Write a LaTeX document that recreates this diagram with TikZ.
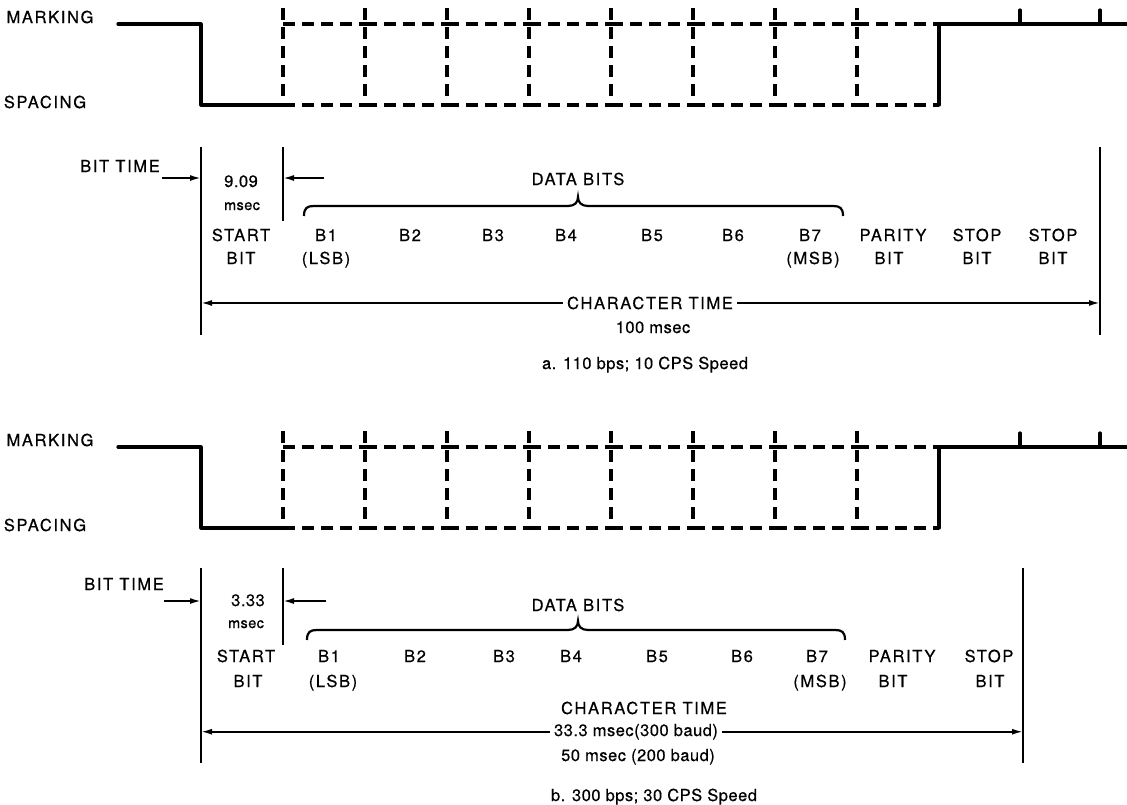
\documentclass[tikz,border=0pt]{standalone}
\usepackage{fontspec}
\setmainfont{TeX Gyre Heros}[LetterSpace=3,FakeBold=0.5]
\newfontfamily\capsfont{TeX Gyre Heros}[LetterSpace=10,FakeBold=0.5]
\usetikzlibrary{arrows.meta}

\begin{document}
\begin{tikzpicture}[x=1pt,y=-1pt,every path/.style={>={Latex[length=11pt,width=6pt]}},
	sig/.style={line width=3.2pt,line join=round,line cap=round},
	sigdash/.style={line width=3.2pt,dash pattern=on 12pt off 7pt},
	rulebar/.style={line width=2.4pt},
	dimarrow/.style={line width=1.8pt,->},
	brc/.style={line width=2.2pt},
	caplbl/.style={inner sep=0pt,anchor=base,font=\capsfont\fontsize{16.5}{20}\selectfont},
	txtlbl/.style={inner sep=0pt,anchor=base,font=\fontsize{16.5}{20}\selectfont},
	unitlbl/.style={inner sep=0pt,anchor=base,font=\fontsize{14.5}{18}\selectfont}]

	\useasboundingbox (0,0) rectangle (1127,804);

	% draw both waveforms
	\foreach \dy/\n in {0/a,423/b}
	{
		\node[caplbl] (mark-\n) at (50,23+\dy) {MARKING};
		\node[caplbl] (space-\n) at (45,108+\dy) {SPACING};
		% start bit
		\draw[sig] (118,24+\dy) -- (201,24+\dy) -- (201,105+\dy) -- (283,105+\dy);
		% data and parity bits
		\foreach \k in {0,...,7}
		{
			\draw[sigdash] (283+82*\k,8+\dy) -- (283+82*\k,105+\dy);
			\draw[sigdash] (283+82*\k,24+\dy) -- (365+82*\k,24+\dy);
			\draw[sigdash] (283+82*\k,105+\dy) -- (365+82*\k,105+\dy);
		}
		% stop bits
		\draw[sig] (939,105+\dy) -- (939,24+\dy) -- (1127,24+\dy);
		\draw[sig] (1020,10+\dy) -- (1020,24+\dy);
		\draw[sig] (1100,10+\dy) -- (1100,24+\dy);
	}

	% draw timing, 110 bps
	\coordinate (left-a) at (201,147);
	\coordinate (bit-a) at (283,147);
	\coordinate (right-a) at (1100,147);
	\draw[rulebar] (left-a) -- ++(0,188);
	\draw[rulebar] (bit-a) -- ++(0,74);
	\draw[rulebar] (right-a) -- ++(0,188);

	\node[caplbl] (bittime-a) at (120,172) {BIT TIME};
	\coordinate (btl-a) at (162,178);
	\coordinate (btr-a) at (324,178);
	\draw[dimarrow] (btl-a) -- (btl-a -| left-a);
	\draw[dimarrow] (btr-a) -- (btr-a -| bit-a);
	\node[txtlbl] (val-a) at (241,187) {9.09};
	\node[unitlbl] (unit-a) at (242,210) {msec};

	\foreach \x/\t/\nm in {241/START/start,326/B1/b1,410/B2/b2,493/B3/b3,566/B4/b4,652/B5/b5,733/B6/b6,810/B7/b7,893/PARITY/par,977/STOP/stopi,1053/STOP/stopii}
		\node[caplbl] (\nm-a) at (\x,241) {\t};
	\foreach \x/\t/\nm in {241/BIT/startbit,326/(LSB)/lsb,813/(MSB)/msb,889/BIT/parbit,977/BIT/stopibit,1053/BIT/stopiibit}
		\node[caplbl] (\nm-a) at (\x,264) {\t};

	% draw brace over data bits
	\node[caplbl] (data-a) at (578,185) {DATA BITS};
	\draw[brc] (304,216) .. controls (304,208) and (307,206) .. (314,206) -- (568,206) .. controls (575,206) and (578,202) .. (578,197) .. controls (578,202) and (581,206) .. (588,206) -- (833,206) .. controls (840,206) and (843,208) .. (843,216);

	\node[caplbl] (char-a) at (650,309) {CHARACTER TIME};
	\node[txtlbl] (charval-a) at (653,333) {100 msec};
	\draw[dimarrow,shorten <=4pt] (char-a.west) -- (char-a.west -| left-a);
	\draw[dimarrow,shorten <=4pt] (char-a.east) -- (char-a.east -| right-a);
	\node[txtlbl] (speed-a) at (645,369) {a. 110 bps; 10 CPS Speed};

	% draw timing, 300 bps
	\coordinate (left-b) at (201,568);
	\coordinate (bit-b) at (283,568);
	\coordinate (right-b) at (1023,568);
	\draw[rulebar] (left-b) -- ++(0,195);
	\draw[rulebar] (bit-b) -- ++(0,77);
	\draw[rulebar] (right-b) -- ++(0,195);

	\node[caplbl] (bittime-b) at (124,590) {BIT TIME};
	\coordinate (btl-b) at (164,601);
	\coordinate (btr-b) at (326,601);
	\draw[dimarrow] (btl-b) -- (btl-b -| left-b);
	\draw[dimarrow] (btr-b) -- (btr-b -| bit-b);
	\node[txtlbl] (val-b) at (248,606) {3.33};
	\node[unitlbl] (unit-b) at (246,628) {msec};

	\foreach \x/\t/\nm in {246/START/start,329/B1/b1,415/B2/b2,504/B3/b3,571/B4/b4,657/B5/b5,742/B6/b6,817/B7/b7,902/PARITY/par,989/STOP/stopi}
		\node[caplbl] (\nm-b) at (\x,662) {\t};
	\foreach \x/\t/\nm in {248/BIT/startbit,333/(LSB)/lsb,820/(MSB)/msb,893/BIT/parbit,990/BIT/stopibit}
		\node[caplbl] (\nm-b) at (\x,687) {\t};

	% draw brace over data bits
	\node[caplbl] (data-b) at (578,611) {DATA BITS};
	\draw[brc] (307,640) .. controls (307,632) and (310,630) .. (317,630) -- (568,630) .. controls (575,630) and (578,626) .. (578,621) .. controls (578,626) and (581,630) .. (588,630) -- (835,630) .. controls (842,630) and (845,632) .. (845,640);

	\node[caplbl] (char-b) at (644,714) {CHARACTER TIME};
	\node[txtlbl] (charval-b) at (636,736) {33.3 msec(300 baud)};
	\node[txtlbl] (charalt-b) at (638,761) {50 msec (200 baud)};
	\draw[dimarrow,shorten <=4pt] (charval-b.west) -- (charval-b.west -| left-b);
	\draw[dimarrow,shorten <=4pt] (charval-b.east) -- (charval-b.east -| right-b);
	\node[txtlbl] (speed-b) at (654,801) {b. 300 bps; 30 CPS Speed};
\end{tikzpicture}
\end{document}
